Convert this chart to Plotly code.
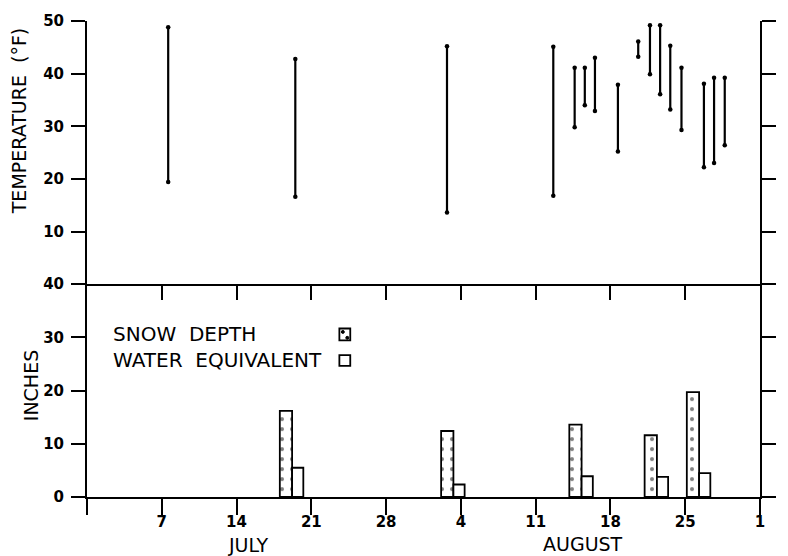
import plotly.graph_objects as go

# ---- data (days counted from 30 June: July d -> d, August d -> 31 + d) ----
temp_day = [7.6, 19.5, 33.7, 43.65, 45.65, 46.6, 47.55, 49.7, 51.6, 52.7,
            53.65, 54.6, 55.65, 57.75, 58.7, 59.7]
temp_max = [48.8, 42.8, 45.2, 45.1, 41.1, 41.1, 43.0, 37.9, 46.1, 49.2,
            49.2, 45.3, 41.1, 38.1, 39.2, 39.2]
temp_min = [19.4, 16.6, 13.6, 16.8, 29.8, 34.0, 32.9, 25.2, 43.2, 39.9,
            36.1, 33.2, 29.3, 22.2, 23.0, 26.4]

obs_day = [19.2, 34.3, 46.3, 53.35, 57.3]
snow_depth = [16.2, 12.4, 13.6, 11.6, 19.7]
water_equiv = [5.5, 2.35, 3.9, 3.8, 4.5]

x_tickvals = [0, 7, 14, 21, 28, 35, 42, 49, 56, 63]
x_ticktext = ["", "7", "14", "21", "28", "4", "11", "18", "25", "1"]

FONT = "DejaVu Sans"
W, H = 788, 556
L, R, T, B = 87, 21, 14, 59
PW, PH = W - L - R, H - T - B


def px(x):
    return (x - L) / PW


def py(y):
    return (H - B - y) / PH


split = (H - B - 281) / PH

# temperature range segments
sx, sy = [], []
for d, lo, hi in zip(temp_day, temp_min, temp_max):
    sx += [d, d, None]
    sy += [lo, hi, None]

fig = go.Figure()
fig.add_trace(go.Scatter(
    x=sx, y=sy, mode="lines+markers", xaxis="x2", yaxis="y2",
    line=dict(color="black", width=2.2),
    marker=dict(color="black", size=4.5), showlegend=False,
    connectgaps=False))

fig.add_trace(go.Bar(
    x=obs_day, y=snow_depth, width=1.15, offset=-1.15,
    marker=dict(color="white", line=dict(color="black", width=1.8),
                pattern=dict(shape=".", fgcolor="black", bgcolor="white",
                             size=10, solidity=0.13)),
    showlegend=False))
fig.add_trace(go.Bar(
    x=obs_day, y=water_equiv, width=1.05, offset=0,
    marker=dict(color="white", line=dict(color="black", width=1.8)),
    showlegend=False))

axis_common = dict(showline=True, linecolor="black", linewidth=2,
                   showgrid=False, zeroline=False, ticks="outside",
                   tickcolor="black", tickwidth=2)

fig.update_layout(
    width=W, height=H, margin=dict(l=L, r=R, t=T, b=B),
    paper_bgcolor="white", plot_bgcolor="white",
    barmode="overlay", font=dict(family=FONT, color="black"),
    xaxis=dict(axis_common, range=[0, 63], anchor="y", tickvals=x_tickvals,
               ticktext=x_ticktext, ticklen=16, ticklabelstandoff=-6,
               tickfont=dict(family=FONT, size=15, weight="bold")),
    xaxis2=dict(axis_common, range=[0, 63], anchor="y2", matches="x",
                tickvals=x_tickvals[1:-1], ticklen=14,
                showticklabels=False),
    yaxis=dict(axis_common, domain=[0, split], range=[0, 40],
               tickvals=[0, 10, 20, 30, 40], ticklen=14, mirror="ticks",
               ticklabelstandoff=4,
               tickfont=dict(family=FONT, size=15, weight="bold")),
    yaxis2=dict(axis_common, domain=[split, 1], range=[0, 50],
                tickvals=[10, 20, 30, 40, 50], ticklen=14, mirror="ticks",
                ticklabelstandoff=4,
                tickfont=dict(family=FONT, size=15, weight="bold")),
)

ann = [
    dict(text="TEMPERATURE  (°F)", x=px(18), y=py(116), textangle=-90,
         font=dict(size=19)),
    dict(text="INCHES", x=px(30), y=py(384), textangle=-90,
         font=dict(size=19)),
    dict(text="JULY", x=px(250), y=py(546), font=dict(size=19)),
    dict(text="AUGUST", x=px(588), y=py(545), font=dict(size=19)),
    dict(text="SNOW  DEPTH", x=px(111), y=py(332), xanchor="left",
         font=dict(size=20)),
    dict(text="WATER  EQUIVALENT", x=px(111), y=py(358), xanchor="left",
         font=dict(size=20)),
]
for a in ann:
    a.setdefault("xanchor", "center")
    fig.add_annotation(xref="paper", yref="paper", showarrow=False,
                       yanchor="middle", **a)

# legend keys
fig.add_shape(type="rect", xref="paper", yref="paper",
              x0=px(342), x1=px(353), y0=py(338), y1=py(326),
              line=dict(color="black", width=1.8), fillcolor="white")
fig.add_shape(type="circle", xref="paper", yref="paper",
              x0=px(344), x1=px(347), y0=py(331), y1=py(328),
              line=dict(color="black", width=1), fillcolor="black")
fig.add_shape(type="circle", xref="paper", yref="paper",
              x0=px(348.5), x1=px(351.5), y0=py(337), y1=py(334),
              line=dict(color="black", width=1), fillcolor="black")
fig.add_shape(type="rect", xref="paper", yref="paper",
              x0=px(342), x1=px(353), y0=py(364), y1=py(353),
              line=dict(color="black", width=1.8), fillcolor="white")

fig.write_html("out.html")
